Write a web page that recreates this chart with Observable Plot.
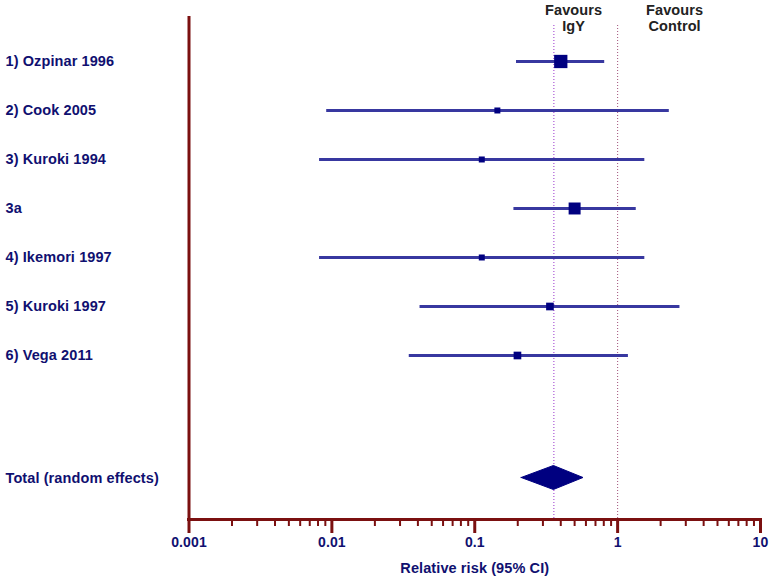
<!DOCTYPE html>
<html>
<head>
<meta charset="utf-8">
<script src="https://cdn.jsdelivr.net/npm/d3@7"></script>
<script src="https://cdn.jsdelivr.net/npm/@observablehq/plot@0.6"></script>
<style>
  html, body { margin: 0; padding: 0; background: #ffffff; }
</style>
</head>
<body>
<div id="chart"></div>
<script>
// ---- data ----
const studies   = ["1) Ozpinar 1996", "2) Cook 2005", "3) Kuroki 1994", "3a", "4) Ikemori 1997", "5) Kuroki 1997", "6) Vega 2011"];
const estimates = [0.40, 0.144, 0.112, 0.50, 0.112, 0.336, 0.199];
const lowerCI   = [0.196, 0.0092, 0.0082, 0.188, 0.0082, 0.0414, 0.0348];
const upperCI   = [0.812, 2.30, 1.55, 1.35, 1.55, 2.73, 1.19];
const weights   = [32.4, 6.6, 6.6, 26.3, 6.6, 10.8, 10.8];

const totalLabel = "Total (random effects)";
const totalEstimate = 0.358;
const totalLower = 0.213;
const totalUpper = 0.577;

const majorTicks = [0.001, 0.01, 0.1, 1, 10];
const tickLabels = ["0.001", "0.01", "0.1", "1", "10"];
const minorTicks = [2,3,4,5,6,7,8,9].flatMap(m => [0.001, 0.01, 0.1, 1].map(d => m * d));
const favourLabels = ["Favours\nIgY", "Favours\nControl"];
const axisTitle = "Relative risk (95% CI)";

// ---- build tables ----
const rows = studies.map((name, i) => ({name, i, est: estimates[i], lo: lowerCI[i], hi: upperCI[i], w: weights[i]}));
const totalRow = studies.length + 1.5;
const diamondHalf = 0.245;
const diamond = [
  {x: totalLower, y1: totalRow, y2: totalRow},
  {x: totalEstimate, y1: totalRow - diamondHalf, y2: totalRow + diamondHalf},
  {x: totalUpper, y1: totalRow, y2: totalRow}
];
const labelRows = [...rows.map(r => ({name: r.name, i: r.i})), {name: totalLabel, i: totalRow}];

const axisColor = "#7b1010";
const navy = "#000080";
const textNavy = "#101070";
const barColor = "#3838a0";
const yTop = -0.918, yBottom = 9.347;

const chart = Plot.plot({
  width: 774,
  height: 580,
  marginLeft: 188.5,
  marginRight: 14,
  marginTop: 16,
  marginBottom: 61,
  style: "font-family: 'Liberation Sans', Arial, sans-serif; font-size: 14.5px; font-weight: bold; background: #ffffff; overflow: visible; letter-spacing: 0.1px;",
  x: {type: "log", domain: [0.001, 10]},
  y: {domain: [yBottom, yTop], axis: null},
  r: {type: "sqrt", domain: [0, d3.max(weights)], range: [0, 7.5]},
  marks: [
    // reference dotted lines
    Plot.ruleX([totalEstimate], {stroke: "#9933cc", strokeWidth: 1, strokeDasharray: "1,2", insetTop: 9}),
    Plot.ruleX([1], {stroke: "#a0507a", strokeWidth: 1, strokeDasharray: "1,2", insetTop: 9}),
    // confidence intervals
    Plot.ruleY(rows, {y: "i", x1: "lo", x2: "hi", stroke: barColor, strokeWidth: 3}),
    // point estimates
    Plot.dot(rows, {x: "est", y: "i", r: "w", symbol: "square", fill: navy, stroke: "none"}),
    // pooled diamond
    Plot.area(diamond, {x1: "x", y1: "y1", y2: "y2", fill: navy, stroke: navy, strokeWidth: 1}),
    // axes lines
    Plot.ruleX([0.001], {stroke: axisColor, strokeWidth: 3}),
    Plot.ruleY([yBottom], {stroke: axisColor, strokeWidth: 3, insetLeft: -1.5, insetRight: -2}),
    Plot.axisX({ticks: majorTicks, tickSize: 14, stroke: axisColor, strokeWidth: 3, fill: "none", label: null}),
    Plot.axisX({ticks: minorTicks, tickSize: 7, stroke: axisColor, strokeWidth: 2, fill: "none", label: null}),
    Plot.axisX({ticks: majorTicks, tickSize: 0, tickPadding: 18, tickFormat: (d) => tickLabels[majorTicks.indexOf(d)], fill: textNavy, fontSize: 14, fontWeight: "bold", label: null}),
    // row labels
    Plot.text(labelRows, {y: "i", text: "name", frameAnchor: "left", dx: -183.5, textAnchor: "start", fill: textNavy}),
    // favours labels
    Plot.text([favourLabels[0]], {x: 1, frameAnchor: "top", dx: -44, dy: -13, lineAnchor: "top", lineHeight: 1.1, fill: "#222222", text: d => d}),
    Plot.text([favourLabels[1]], {x: 1, frameAnchor: "top", dx: 57, dy: -13, lineAnchor: "top", lineHeight: 1.1, fill: "#222222", text: d => d}),
    // axis title
    Plot.text([axisTitle], {frameAnchor: "bottom", dy: 49, lineAnchor: "middle", fill: textNavy, text: d => d})
  ]
});
document.getElementById("chart").appendChild(chart);
</script>
</body>
</html>
